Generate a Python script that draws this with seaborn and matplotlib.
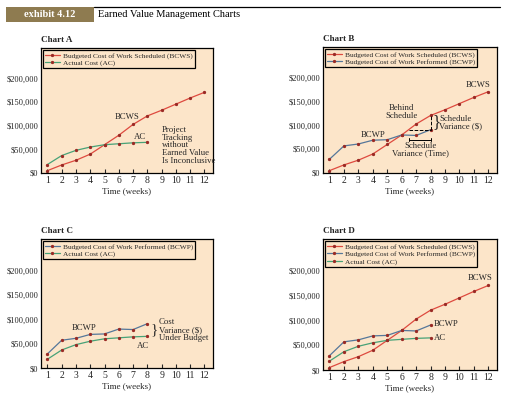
import matplotlib
matplotlib.use("Agg")
import matplotlib.pyplot as plt
import matplotlib.ticker as mticker
import pandas as pd
import seaborn as sns

# data (dollars per week)
weeks = list(range(1, 13))
bcws = [5000, 17000, 27000, 40000, 60000, 80000, 103000, 121000, 133000, 146000, 159000, 171000]
ac_weeks = list(range(1, 9))
ac = [18000, 37000, 48000, 55000, 60000, 62000, 64000, 65000]
bcwp_weeks = list(range(1, 9))
bcwp = [29000, 57000, 61000, 69000, 70000, 80000, 79000, 91000]
yticks = [0, 50000, 100000, 150000, 200000]

LBL_BCWS = "Budgeted Cost of Work Scheduled (BCWS)"
LBL_BCWP = "Budgeted Cost of Work Performed (BCWP)"
LBL_AC = "Actual Cost (AC)"

C_BCWS = "#DE4A3F"
C_AC = "#47A277"
C_BCWP = "#55779A"
C_MARK = "#9A2A25"
BG = "#FCE5C9"

series = {
    "BCWS": (weeks, bcws, LBL_BCWS, C_BCWS),
    "AC": (ac_weeks, ac, LBL_AC, C_AC),
    "BCWP": (bcwp_weeks, bcwp, LBL_BCWP, C_BCWP),
}

sns.set_theme(style="white")
plt.rcParams["font.family"] = ["Liberation Serif", "DejaVu Serif"]

W, H = 506, 396
fig = plt.figure(figsize=(W / 100, H / 100), dpi=100)


def px_axes(left, top, right, bottom):
    return fig.add_axes([left / W, 1 - bottom / H, (right - left) / W, (bottom - top) / H])


def draw_chart(ax, title, keys):
    for k in keys:
        x, y, lbl, col = series[k]
        df = pd.DataFrame({"week": x, "cost": y})
        sns.lineplot(data=df, x="week", y="cost", ax=ax, color=col, linewidth=0.9,
                     marker="o", markersize=1.6, markerfacecolor=C_MARK,
                     markeredgecolor=C_MARK, label=lbl)
    ax.set_facecolor(BG)
    ax.set_xlim(0.55, 12.6)
    ax.set_ylim(0, 265000)
    ax.set_xticks(weeks)
    ax.set_yticks(yticks)
    ax.yaxis.set_major_formatter(mticker.FuncFormatter(lambda v, p: f"${v:,.0f}"))
    ax.tick_params(axis="x", direction="in", length=3, width=0.8, labelsize=7, pad=2, bottom=True)
    ax.tick_params(axis="y", length=0, labelsize=6, pad=2)
    for s in ax.spines.values():
        s.set_color("black")
        s.set_linewidth(0.9)
    ax.set_xlabel("Time (weeks)", fontsize=6.5, labelpad=2)
    ax.set_ylabel("")
    ax.grid(False)
    leg = ax.legend(loc="upper left", fontsize=5.3, frameon=True, fancybox=False,
                    borderaxespad=0.25, handlelength=2.0, labelspacing=0.15,
                    borderpad=0.3, handletextpad=0.4)
    leg.get_frame().set_edgecolor("black")
    leg.get_frame().set_linewidth(0.9)
    leg.get_frame().set_facecolor(BG)
    leg.get_frame().set_alpha(1)
    ax.text(0, 1.03, title, transform=ax.transAxes, fontsize=6.5, fontweight="bold",
            ha="left", va="bottom")


axA = px_axes(41, 48, 213, 173)
axB = px_axes(323, 47, 497, 173)
axC = px_axes(41, 239, 213, 368)
axD = px_axes(323, 239, 497, 370)

draw_chart(axA, "Chart A", ["BCWS", "AC"])
draw_chart(axB, "Chart B", ["BCWS", "BCWP"])
draw_chart(axC, "Chart C", ["BCWP", "AC"])
draw_chart(axD, "Chart D", ["BCWS", "BCWP", "AC"])

fs = 6.3
# Chart A notes
axA.text(6.6, 119000, "BCWS", fontsize=fs, ha="center", va="center")
axA.text(7.5, 77000, "AC", fontsize=fs, ha="center", va="center")
axA.text(9.0, 100000, "Project\nTracking\nwithout\nEarned Value\nIs Inconclusive",
         fontsize=fs, ha="left", va="top", linespacing=0.95)

# Chart B notes
axB.text(11.3, 186000, "BCWS", fontsize=fs, ha="center", va="center")
axB.text(4.0, 80000, "BCWP", fontsize=fs, ha="center", va="center")
axB.text(6.0, 128000, "Behind\nSchedule", fontsize=fs, ha="center", va="center", linespacing=0.95)
axB.plot([6.5, 8.0], [91000, 91000], color="black", linestyle="--", linewidth=0.7)
axB.plot([8.0, 8.0], [91000, 121000], color="black", linestyle="--", linewidth=0.7)
axB.text(8.1, 106000, "}", fontsize=12, ha="left", va="center", fontweight="light")
axB.text(8.6, 106000, "Schedule\nVariance ($)", fontsize=fs, ha="left", va="center", linespacing=0.95)
axB.plot([6.5, 8.0], [70000, 70000], color="black", linewidth=0.7)
axB.plot([6.5, 6.5], [67000, 73000], color="black", linewidth=0.7)
axB.plot([8.0, 8.0], [67000, 73000], color="black", linewidth=0.7)
axB.text(7.3, 49000, "Schedule\nVariance (Time)", fontsize=fs, ha="center", va="center", linespacing=0.95)

# Chart C notes
axC.text(3.6, 82000, "BCWP", fontsize=fs, ha="center", va="center")
axC.text(7.7, 45000, "AC", fontsize=fs, ha="center", va="center")
axC.text(8.2, 78000, "}", fontsize=11, ha="left", va="center", fontweight="light")
axC.text(8.8, 78000, "Cost\nVariance ($)\nUnder Budget", fontsize=fs, ha="left", va="center", linespacing=0.95)

# Chart D notes
axD.text(11.4, 187000, "BCWS", fontsize=fs, ha="center", va="center")
axD.text(8.2, 93000, "BCWP", fontsize=fs, ha="left", va="center")
axD.text(8.2, 65000, "AC", fontsize=fs, ha="left", va="center")

# header banner
fig.patches.append(plt.Rectangle((6 / W, 1 - 22 / H), 88 / W, 15 / H, transform=fig.transFigure,
                                 facecolor="#8E7B50", edgecolor="none"))
fig.text(50 / W, 1 - 14.5 / H, "exhibit 4.12", color="white", fontsize=7.5, fontweight="bold",
         ha="center", va="center")
fig.text(98 / W, 1 - 14.5 / H, "Earned Value Management Charts", color="black", fontsize=7.5,
         ha="left", va="center")
fig.add_artist(plt.Line2D([94 / W, 500 / W], [1 - 6.5 / H, 1 - 6.5 / H], color="black",
                          linewidth=0.9, transform=fig.transFigure))

fig.savefig("out.png", dpi=100)
